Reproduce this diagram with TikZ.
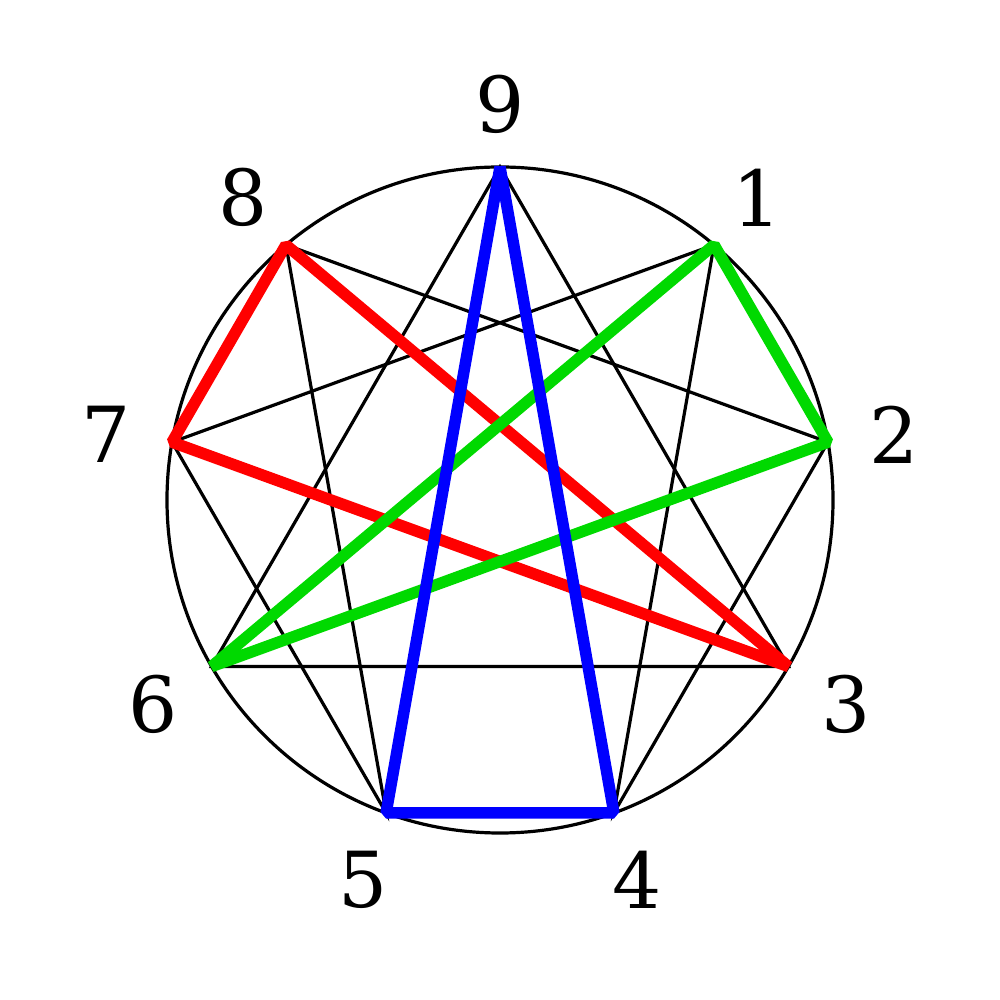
\documentclass[tikz,border=0pt]{standalone}
\usepackage{fontspec}
\setmainfont{DejaVu Serif}
\usepackage{xcolor}
\definecolor{enngreen}{RGB}{0,217,0}

\begin{document}
\begin{tikzpicture}
        \tikzset{thin line/.style={draw,line width=0.032cm},
            thick line/.style={draw,line width=0.115cm,line join=bevel},
            number/.style={font=\fontsize{22}{26}\selectfont,yshift=-0.04cm}}
        \useasboundingbox (-5,-5) rectangle (5,5);
        \draw[thin line] (0,0) circle (3.33);
        \foreach \n in {1,...,9}
        {
                \coordinate (p\n) at ({90-40*\n}:3.33);
                \node[number] (n\n) at ({90-40*\n}:4.0) {\n};
        }
        \draw[thin line] (p1) -- (p4) -- (p2) -- (p8) -- (p5) -- (p7) -- cycle;
        \draw[thin line] (p9) -- (p3) -- (p6) -- cycle;
        \draw[thick line,red] (p8) -- (p7) -- (p3) -- cycle;
        \draw[thick line,enngreen] (p1) -- (p2) -- (p6) -- cycle;
        \draw[thick line,blue] (p9) -- (p5) -- (p4) -- cycle;
    \end{tikzpicture}
\end{document}
